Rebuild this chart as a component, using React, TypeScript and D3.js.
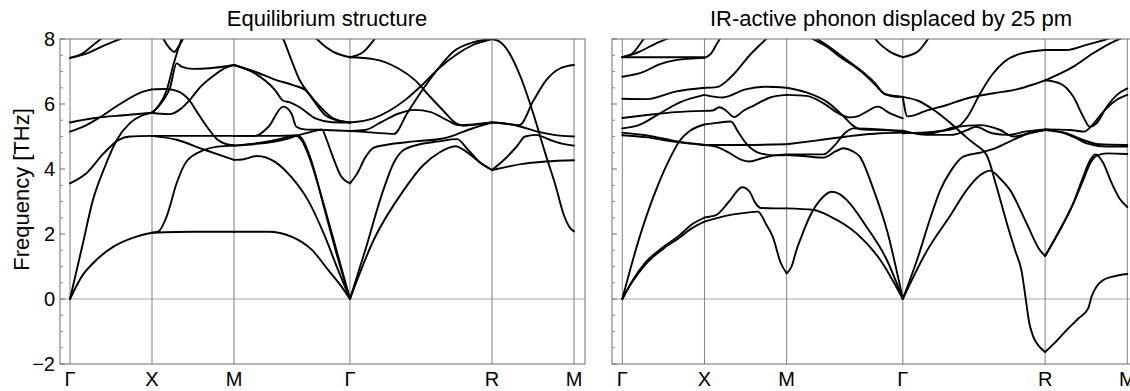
import React from "react";
import * as d3 from "d3";

type Pt = [number, number];

const kLabels = ["Γ", "X", "M", "Γ", "R", "M"];
const kPositions = [0, 1, 2, 3.414, 5.146, 6.146];
const yMajorTicks = [-2, 0, 2, 4, 6, 8];
const yMinorTicks = [-1.5, -1, -0.5, 0.5, 1, 1.5, 2.5, 3, 3.5, 4.5, 5, 5.5, 6.5, 7, 7.5];
const titles = ["Equilibrium structure", "IR-active phonon displaced by 25 pm"];

// ---------- Equilibrium structure ----------
const eqGammaX: Pt[][] = [
  [[0, 0], [0.15, 0.72], [0.28, 1.1], [0.53, 1.61], [0.81, 1.92], [1, 2.04]],
  [[0, 0], [0.15, 1.63], [0.28, 3.05], [0.43, 4.1], [0.57, 4.89], [0.73, 5.41], [0.88, 5.65], [1, 5.73]],
  [[0, 3.56], [0.2, 3.87], [0.41, 4.48], [0.59, 4.89], [0.73, 5.0], [1, 5.02]],
  [[0, 5.15], [0.2, 5.35], [0.37, 5.6], [0.61, 6.0], [0.89, 6.38], [1, 6.45]],
  [[0, 5.43], [0.28, 5.56], [0.69, 5.66], [1, 5.73]],
  [[0, 7.42], [0.15, 7.55], [0.3, 7.85], [0.4, 8.05], [0.6, 8.5]],
  [[0, 7.42], [0.2, 7.55], [0.4, 7.78], [0.61, 8.0], [0.8, 8.2]],
];
const eqXM: Pt[][] = [
  [[1, 2.04], [1.5, 2.07], [2, 2.07]],
  [[1, 2.04], [1.08, 2.08], [1.18, 2.55], [1.3, 3.56], [1.42, 4.23], [1.63, 4.58], [1.8, 4.69], [2, 4.72]],
  [[1, 5.02], [1.5, 5.02], [2, 5.02]],
  [[1, 5.02], [1.3, 4.9], [1.63, 4.6], [2, 4.28]],
  [[1, 5.73], [1.1, 5.7], [1.22, 5.69], [1.35, 5.85], [1.45, 6.1], [1.6, 6.55], [1.75, 6.87], [1.9, 7.12], [2, 7.2]],
  [[1, 6.45], [1.15, 6.46], [1.28, 6.42], [1.38, 6.3], [1.46, 6.1], [1.55, 5.75], [1.67, 5.3], [1.8, 4.9], [1.9, 4.77], [2, 4.73]],
  [[1, 5.73], [1.05, 5.85], [1.1, 6.02], [1.18, 6.43], [1.26, 7.2], [1.36, 8.0], [1.45, 8.6]],
  [[1, 5.73], [1.07, 5.9], [1.14, 6.12], [1.22, 6.5], [1.3, 7.25], [1.36, 7.15], [1.5, 7.08], [1.7, 7.1], [2, 7.2]],
  [[1.0, 8.9], [1.14, 8.0], [1.22, 7.7], [1.27, 7.6], [1.32, 7.75], [1.4, 8.1], [1.5, 8.5]],
];
const eqMGamma: Pt[][] = [
  [[2, 2.07], [2.42, 2.07], [2.7, 1.92], [2.95, 1.51], [3.15, 0.89], [3.3, 0.42], [3.414, 0]],
  [[2, 4.28], [2.12, 4.3], [2.28, 4.4], [2.5, 4.22], [2.7, 3.75], [2.9, 3.05], [3.1, 1.98], [3.26, 0.95], [3.414, 0]],
  [[2, 5.02], [2.26, 5.02], [2.42, 5.3], [2.6, 5.92], [2.7, 5.71], [2.76, 5.3], [2.86, 5.22], [3.11, 5.2], [3.414, 5.17]],
  [[2, 5.02], [2.5, 5.02], [2.78, 5.03], [2.85, 4.85], [2.95, 4.2], [3.1, 2.8], [3.25, 1.4], [3.414, 0]],
  [[2, 4.72], [2.3, 4.8], [2.55, 4.92], [2.75, 5.03], [2.82, 4.9], [2.92, 4.35], [3.05, 3.3], [3.2, 1.95], [3.414, 0]],
  [[2, 4.72], [2.3, 4.78], [2.6, 4.9], [2.8, 5.05], [3.0, 5.18], [3.07, 5.22], [3.13, 4.9], [3.19, 4.48], [3.31, 3.76], [3.414, 3.56]],
  [[2, 7.2], [2.25, 6.95], [2.5, 6.43], [2.6, 6.1], [2.68, 6.05], [2.8, 5.9], [3.0, 5.55], [3.2, 5.44], [3.414, 5.43]],
  [[2, 7.2], [2.25, 7.0], [2.5, 6.75], [2.72, 6.58], [2.87, 6.43], [3.0, 6.0], [3.11, 5.66], [3.25, 5.5], [3.414, 5.43]],
  [[2.45, 8.5], [2.6, 8.0], [2.7, 7.35], [2.8, 6.74], [2.92, 6.3], [3.05, 5.92], [3.21, 5.56], [3.414, 5.43]],
  [[2.9, 8.3], [3.0, 8.02], [3.2, 7.62], [3.414, 7.44]],
];
const eqGammaR: Pt[][] = [
  [[3.414, 7.44], [3.58, 7.61], [3.72, 8.02], [3.8, 8.3]],
  [[3.414, 7.44], [3.7, 7.38], [4.0, 7.1], [4.2, 6.75], [4.4, 6.2], [4.55, 5.8], [4.7, 5.42], [4.8, 5.33], [5.0, 5.38], [5.146, 5.43]],
  [[3.414, 5.43], [3.7, 5.56], [3.9, 5.8], [4.1, 6.15], [4.3, 6.6], [4.5, 7.1], [4.7, 7.5], [4.9, 7.8], [5.146, 8.0]],
  [[3.414, 5.17], [3.7, 5.12], [3.95, 5.08], [4.11, 5.71], [4.27, 6.33], [4.51, 7.15], [4.67, 7.6], [4.92, 7.9], [5.146, 8.0]],
  [[3.414, 5.17], [3.6, 5.2], [3.8, 5.45], [4.0, 5.7], [4.2, 5.82], [4.4, 5.75], [4.6, 5.5], [4.75, 5.35], [4.95, 5.38], [5.146, 5.43]],
  [[3.414, 3.56], [3.5, 3.85], [3.6, 4.35], [3.7, 4.65], [3.85, 4.74], [4.2, 4.85], [4.55, 4.94], [4.7, 5.05], [4.85, 5.2], [5.146, 5.43]],
  [[3.414, 0], [3.6, 1.5], [3.82, 3.35], [3.95, 4.2], [4.05, 4.55], [4.2, 4.72], [4.5, 4.85], [4.72, 4.92], [4.85, 4.6], [5.0, 4.2], [5.146, 3.97]],
  [[3.414, 0], [3.7, 1.8], [4.07, 3.35], [4.3, 4.1], [4.5, 4.5], [4.7, 4.7], [4.85, 4.5], [5.0, 4.2], [5.146, 3.97]],
];
const eqRM: Pt[][] = [
  [[5.146, 8.0], [5.25, 7.9], [5.35, 7.6], [5.5, 6.8], [5.65, 5.7], [5.8, 4.45], [5.92, 3.5], [6.02, 2.6], [6.1, 2.18], [6.146, 2.08]],
  [[5.146, 5.43], [5.3, 5.4], [5.48, 5.35], [5.65, 6.1], [5.81, 6.74], [5.98, 7.1], [6.146, 7.2]],
  [[5.146, 5.43], [5.35, 5.38], [5.5, 5.3], [5.7, 5.15], [5.9, 5.05], [6.146, 5.0]],
  [[5.146, 3.97], [5.3, 4.3], [5.45, 4.7], [5.55, 5.0], [5.68, 5.05], [5.85, 4.9], [6.0, 4.78], [6.146, 4.72]],
  [[5.146, 3.97], [5.3, 4.05], [5.5, 4.15], [5.8, 4.23], [6.146, 4.27]],
];

// ---------- IR-active phonon displaced ----------
const irGammaX: Pt[][] = [
  [[0, 0], [0.12, 0.55], [0.28, 1.12], [0.5, 1.6], [0.69, 1.95], [0.85, 2.3], [1, 2.5]],
  [[0, 0], [0.12, 0.52], [0.28, 1.06], [0.5, 1.55], [0.69, 1.88], [0.85, 2.18], [1, 2.38]],
  [[0, 0], [0.2, 1.82], [0.41, 3.35], [0.61, 4.48], [0.69, 4.84], [0.81, 5.15], [1, 5.37]],
  [[0, 5.12], [0.28, 5.04], [0.69, 4.84], [1, 4.74]],
  [[0, 5.04], [0.28, 4.98], [0.6, 4.85], [1, 4.74]],
  [[0, 5.25], [0.2, 5.35], [0.45, 5.7], [0.7, 6.05], [1, 6.28]],
  [[0, 5.57], [0.3, 5.66], [0.65, 5.75], [1, 5.79]],
  [[0, 6.16], [0.3, 6.15], [0.66, 6.39], [1, 6.5]],
  [[0, 6.84], [0.25, 6.98], [0.45, 7.22], [0.65, 7.35], [1, 7.42]],
  [[0, 7.44], [0.5, 7.44], [1, 7.44]],
  [[0, 7.44], [0.12, 7.55], [0.26, 8.0], [0.35, 8.3]],
  [[0, 7.44], [0.2, 7.6], [0.4, 7.85], [0.54, 8.0], [0.7, 8.2]],
];
const irXM: Pt[][] = [
  [[1, 7.42], [1.08, 7.55], [1.15, 7.85], [1.2, 8.05], [1.3, 8.4]],
  [[1, 6.5], [1.15, 6.52], [1.35, 6.9], [1.55, 7.5], [1.75, 8.0], [1.85, 8.25]],
  [[1, 6.28], [1.22, 6.2], [1.5, 6.45], [1.75, 6.53], [2, 6.5]],
  [[1, 5.79], [1.1, 5.8], [1.18, 5.9], [1.26, 5.8], [1.36, 5.6], [1.48, 5.8], [1.6, 5.95], [1.8, 6.2], [2, 6.28]],
  [[1, 5.37], [1.15, 5.42], [1.32, 5.46], [1.42, 5.1], [1.52, 4.75], [1.68, 4.48], [1.85, 4.42], [2, 4.43]],
  [[1, 4.74], [1.5, 4.74], [2, 4.76]],
  [[1, 4.74], [1.15, 4.68], [1.3, 4.5], [1.45, 4.28], [1.55, 4.23], [1.7, 4.33], [1.85, 4.42], [2, 4.45]],
  [[1, 2.51], [1.14, 2.58], [1.3, 3.0], [1.46, 3.44], [1.55, 3.3], [1.62, 2.95], [1.69, 2.8], [1.85, 2.79], [2, 2.79]],
  [[1, 2.38], [1.3, 2.58], [1.5, 2.65], [1.65, 2.69], [1.75, 2.3], [1.83, 1.92], [1.93, 1.1], [2, 0.79]],
];
const irMGamma: Pt[][] = [
  [[2, 0.79], [2.06, 1.0], [2.12, 1.51], [2.2, 2.05], [2.28, 2.53], [2.41, 3.05], [2.55, 3.3], [2.65, 3.22], [2.73, 3.05], [2.97, 2.23], [3.22, 1.2], [3.414, 0]],
  [[2, 2.79], [2.33, 2.74], [2.54, 2.53], [2.85, 2.02], [3.14, 1.2], [3.414, 0]],
  [[2, 4.43], [2.2, 4.4], [2.45, 4.35], [2.6, 4.55], [2.69, 4.64], [2.8, 4.55], [2.89, 4.38], [3.06, 3.35], [3.22, 2.12], [3.414, 0]],
  [[2, 4.45], [2.2, 4.45], [2.45, 4.45], [2.57, 4.69], [2.73, 5.15], [2.81, 5.25], [3.14, 5.22], [3.414, 5.15]],
  [[2, 4.76], [2.4, 4.89], [2.73, 5.0], [3.14, 5.1], [3.414, 5.12]],
  [[2, 6.28], [2.24, 6.25], [2.45, 6.02], [2.63, 5.71], [2.77, 5.59], [2.85, 5.61], [2.97, 5.76], [3.11, 5.92], [3.26, 5.71], [3.414, 5.56]],
  [[2, 6.5], [2.25, 6.35], [2.5, 6.05], [2.7, 5.6], [2.8, 5.35], [2.9, 5.22], [3.14, 5.2], [3.414, 5.18]],
  [[2.2, 8.2], [2.32, 8.0], [2.49, 7.76], [2.65, 7.45], [2.8, 7.2], [2.91, 6.99], [3.06, 6.64], [3.18, 6.33], [3.3, 6.23], [3.414, 6.22]],
  [[2.25, 8.2], [2.37, 8.0], [2.53, 7.74], [2.68, 7.45], [2.92, 7.0], [3.07, 6.66], [3.2, 6.3], [3.414, 6.22]],
  [[3.0, 8.3], [3.08, 8.0], [3.25, 7.62], [3.414, 7.44]],
];
const irGammaR: Pt[][] = [
  [[3.414, 7.44], [3.6, 7.62], [3.72, 8.0], [3.8, 8.3]],
  [[3.414, 6.22], [3.6, 6.1], [3.8, 5.8], [4.0, 5.4], [4.2, 4.95], [4.3, 4.75], [4.44, 4.4], [4.55, 3.5], [4.68, 2.33], [4.78, 1.5], [4.86, 0.85], [4.91, 0.0], [4.95, -0.7], [5.0, -1.15], [5.07, -1.45], [5.146, -1.63]],
  [[3.414, 6.22], [3.47, 5.62], [3.55, 5.65], [3.66, 5.76], [3.95, 5.97], [4.19, 6.17], [4.52, 6.33], [4.8, 6.45], [5.0, 6.6], [5.146, 6.73]],
  [[3.414, 5.1], [3.8, 5.15], [4.05, 5.25], [4.2, 5.6], [4.35, 6.3], [4.5, 6.9], [4.65, 7.3], [4.85, 7.55], [5.146, 7.66]],
  [[3.414, 5.12], [3.75, 5.1], [4.07, 5.3], [4.35, 5.35], [4.6, 5.2], [4.76, 5.0], [4.95, 5.1], [5.146, 5.2]],
  [[3.414, 5.18], [3.7, 5.05], [4.0, 5.05], [4.2, 5.2], [4.3, 5.3], [4.5, 5.1], [4.7, 5.05], [4.9, 5.15], [5.146, 5.22]],
  [[3.414, 0], [3.6, 1.3], [3.75, 2.5], [3.87, 3.35], [4.0, 3.95], [4.15, 4.38], [4.35, 4.5], [4.55, 4.65], [4.76, 4.9], [4.95, 5.1], [5.146, 5.2]],
  [[3.414, 0], [3.7, 1.45], [4.0, 2.6], [4.19, 3.35], [4.35, 3.8], [4.48, 3.95], [4.6, 3.7], [4.72, 3.35], [4.92, 2.33], [5.08, 1.51], [5.146, 1.32]],
];
const irRM: Pt[][] = [
  [[5.146, -1.63], [5.25, -1.38], [5.41, -0.95], [5.55, -0.6], [5.67, -0.29], [5.71, 0.07], [5.77, 0.38], [5.85, 0.58], [5.97, 0.69], [6.146, 0.77]],
  [[5.146, 1.32], [5.3, 2.0], [5.49, 2.94], [5.6, 3.6], [5.7, 4.2], [5.78, 4.42], [5.9, 4.48], [6.146, 4.46]],
  [[5.146, 1.32], [5.3, 2.02], [5.49, 2.96], [5.6, 3.7], [5.7, 4.3], [5.76, 4.45], [5.85, 4.2], [5.95, 3.6], [6.05, 3.1], [6.146, 2.83]],
  [[5.146, 5.22], [5.33, 5.14], [5.49, 4.99], [5.65, 4.79], [5.9, 4.69], [6.146, 4.69]],
  [[5.146, 5.2], [5.4, 5.1], [5.6, 4.9], [5.8, 4.76], [6.146, 4.74]],
  [[5.146, 6.73], [5.33, 6.63], [5.49, 6.22], [5.61, 5.61], [5.69, 5.3], [5.77, 5.4], [5.9, 5.93], [6.02, 6.28], [6.146, 6.48]],
  [[5.146, 5.22], [5.45, 5.2], [5.62, 5.15], [5.72, 5.35], [5.85, 5.75], [6.0, 6.1], [6.146, 6.28]],
  [[5.146, 6.73], [5.49, 7.15], [5.73, 7.56], [5.98, 7.92], [6.146, 8.1]],
  [[5.146, 7.66], [5.4, 7.66], [5.65, 7.82], [5.9, 8.0], [6.1, 8.2]],
];

const eqBands = [eqGammaX, eqXM, eqMGamma, eqGammaR, eqRM];
const irBands = [irGammaX, irXM, irMGamma, irGammaR, irRM];

const W = 1130;
const H = 391;
const frameTop = 39;
const frameBottom = 364;
const font = "'Liberation Sans', Arial, Helvetica, sans-serif";

interface PanelProps {
  id: string;
  frameLeft: number;
  frameRight: number;
  kStart: number;
  kEnd: number;
  segments: Pt[][][];
  title: string;
  titleX: number;
  showYLabels: boolean;
}

function Panel({ id, frameLeft, frameRight, kStart, kEnd, segments, title, titleX, showYLabels }: PanelProps) {
  const x = d3.scaleLinear().domain([0, 6.146]).range([kStart, kEnd]);
  const y = d3.scaleLinear().domain([-2, 8]).range([frameBottom, frameTop]);
  const line = d3
    .line<Pt>()
    .x((d) => x(d[0]))
    .y((d) => y(d[1]))
    .curve(d3.curveMonotoneX);
  const clipId = `clip-${id}`;
  const bands = segments.flat();
  return (
    <g>
      <defs>
        <clipPath id={clipId}>
          <rect x={frameLeft} y={frameTop} width={frameRight - frameLeft} height={frameBottom - frameTop} />
        </clipPath>
      </defs>
      <text x={titleX} y={26} textAnchor="middle" fontFamily={font} fontSize={22} fill="#000">
        {title}
      </text>
      <line x1={frameLeft} x2={frameRight} y1={y(0)} y2={y(0)} stroke="#a8a8a8" strokeWidth={1} />
      {kPositions.map((k, i) => (
        <line key={`v${i}`} x1={x(k)} x2={x(k)} y1={frameTop} y2={frameBottom} stroke="#808080" strokeWidth={1} />
      ))}
      <g clipPath={`url(#${clipId})`}>
        {bands.map((b, i) => (
          <path key={`b${i}`} d={line(b) || ""} fill="none" stroke="#000" strokeWidth={1.9} strokeLinejoin="round" strokeLinecap="round" />
        ))}
      </g>
      <rect x={frameLeft} y={frameTop} width={frameRight - frameLeft} height={frameBottom - frameTop} fill="none" stroke="#6e6e6e" strokeWidth={1} />
      {yMajorTicks.map((t) => (
        <line key={`mt${t}`} x1={frameLeft} x2={frameLeft + 5} y1={y(t)} y2={y(t)} stroke="#6e6e6e" strokeWidth={1} />
      ))}
      {yMinorTicks.map((t) => (
        <line key={`nt${t}`} x1={frameLeft} x2={frameLeft + 3} y1={y(t)} y2={y(t)} stroke="#8c8c8c" strokeWidth={1} />
      ))}
      {showYLabels &&
        yMajorTicks.map((t) => (
          <text key={`yl${t}`} x={frameLeft - 5} y={y(t)} dy="0.36em" textAnchor="end" fontFamily={font} fontSize={20} fill="#000">
            {t < 0 ? `\u2212${Math.abs(t)}` : `${t}`}
          </text>
        ))}
      {kLabels.map((lab, i) => (
        <text key={`xl${i}`} x={x(kPositions[i])} y={386} textAnchor="middle" fontFamily={font} fontSize={20} fill="#000">
          {lab}
        </text>
      ))}
    </g>
  );
}

export default function App() {
  return (
    <svg width={W} height={H} style={{ position: "absolute", left: 0, top: 0, background: "#fff" }}>
      <rect x={0} y={0} width={W} height={H} fill="#fff" />
      <text
        transform={`translate(29, ${(frameTop + frameBottom) / 2 - 12}) rotate(-90)`}
        textAnchor="middle"
        fontFamily={font}
        fontSize={22}
        fill="#000"
      >
        Frequency [THz]
      </text>
      <Panel id="eq" frameLeft={60} frameRight={585} kStart={70} kEnd={574} segments={eqBands} title={titles[0]} titleX={327} showYLabels={true} />
      <Panel id="ir" frameLeft={612} frameRight={1137} kStart={622.3} kEnd={1127.3} segments={irBands} title={titles[1]} titleX={891} showYLabels={false} />
    </svg>
  );
}
